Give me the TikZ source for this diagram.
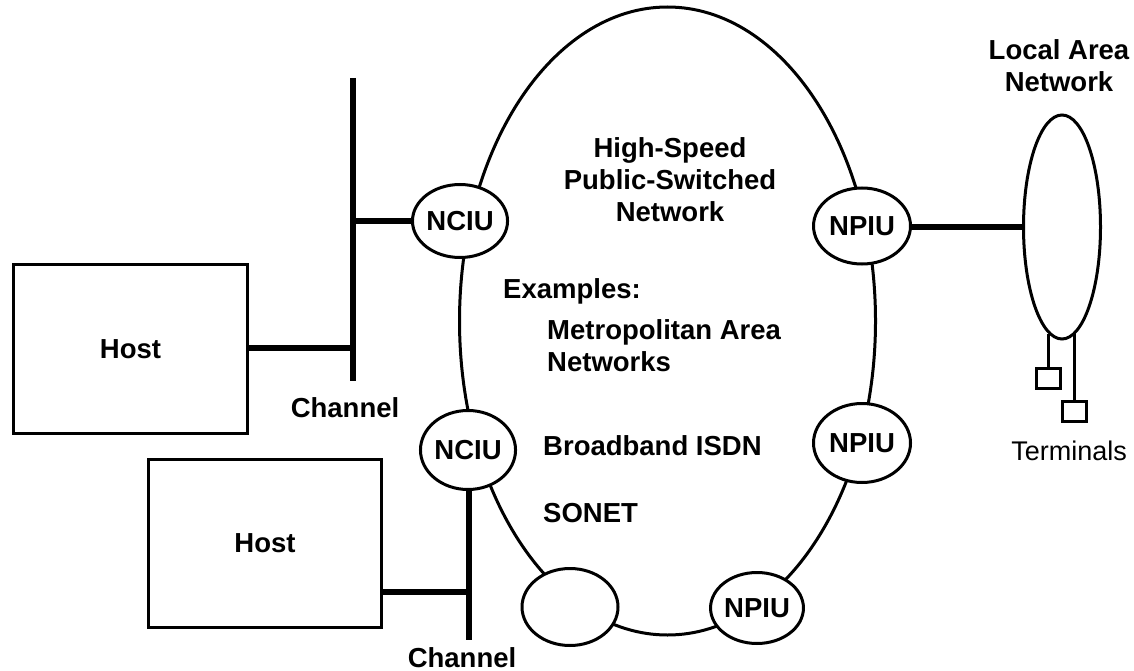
\documentclass[tikz,border=0pt]{standalone}
\usepackage{fontspec}
\setmainfont{Liberation Sans}
\usetikzlibrary{shapes.geometric}
\begin{document}
\begin{tikzpicture}[x=1pt,y=-1pt,
  unit/.style={draw, ellipse, line width=3pt, fill=white, inner sep=0pt,
    font=\fontsize{27.5}{32}\selectfont\bfseries},
  hostbox/.style={draw, rectangle, line width=3.3pt, inner sep=0pt,
    font=\fontsize{27.5}{32}\selectfont\bfseries},
  termbox/.style={draw, rectangle, line width=3pt, inner sep=0pt,
    minimum width=24pt, minimum height=20pt},
  link/.style={line width=5.3pt},
  bus/.style={line width=5.5pt},
  lbl/.style={inner sep=0pt, font=\fontsize{27.5}{32}\selectfont\bfseries},
  plain/.style={inner sep=0pt, font=\fontsize{27}{32}\selectfont}
]
\useasboundingbox (0,0) rectangle (1134,671);

% public-switched network ring
\node[draw, ellipse, line width=3pt, minimum width=416pt, minimum height=628pt,
  inner sep=0pt] (net) at (667.5,321) {};

% interface units sitting on the ring
\node[unit, minimum width=93pt, minimum height=73pt] (c1) at (460,221) {NCIU};
\node[unit, minimum width=97pt, minimum height=76pt] (p1) at (862,226) {NPIU};
\node[unit, minimum width=95pt, minimum height=79pt] (c2) at (468,450) {NCIU};
\node[unit, minimum width=97pt, minimum height=79pt] (p2) at (862,443) {NPIU};
\node[unit, minimum width=96pt, minimum height=77pt] (u0) at (570,607) {};
\node[unit, minimum width=86pt, minimum height=71pt] (p3) at (757,608) {NPIU};

% ring captions
\node[lbl, align=center] (title) at (670,180) {High-Speed\\Public-Switched\\Network};
\node[lbl, anchor=base west] (ex) at (503,298) {Examples:};
\node[lbl, anchor=west, align=left] (man) at (547,346) {Metropolitan Area\\Networks};
\node[lbl, anchor=base west] (isdn) at (543,455) {Broadband ISDN};
\node[lbl, anchor=base west] (sonet) at (543,522) {SONET};

% hosts
\node[hostbox, minimum width=234pt, minimum height=169pt] (h1) at (130.5,349) {Host};
\node[hostbox, minimum width=233pt, minimum height=168pt] (h2) at (265,543.5) {Host};

% first channel
\coordinate (b1t) at (353,78);
\coordinate (b1b) at (353,381);
\draw[bus] (b1t) -- (b1b);
\draw[link] (h1.east |- 0,348) -- (b1t |- 0,348);
\draw[link] (c1.west) -- (c1.west -| b1t);
\node[lbl, anchor=base] (ch1) at (345,417) {Channel};

% second channel
\coordinate (b2b) at (469,640);
\draw[bus] (c2.south -| b2b) -- (b2b);
\draw[link] (h2.east |- 0,592) -- (b2b |- 0,592);
\node[lbl, anchor=base] (ch2) at (462,667) {Channel};

% local area network
\node[draw, ellipse, line width=3pt, minimum width=77pt, minimum height=224pt,
  inner sep=0pt] (lan) at (1062,227) {};
\node[lbl, align=center] (lantitle) at (1059,66) {Local Area\\Network};
\draw[link] (p1.east |- lan.west) -- (lan.west);

% terminals on the LAN
\node[termbox] (t1) at (1048.5,378.5) {};
\node[termbox] (t2) at (1074.5,411.5) {};
\draw[line width=3pt] (t1.north) -- (t1.north |- lan.-97);
\draw[line width=3pt] (t2.north) -- (t2.north |- lan.-82);
\node[plain, anchor=base] (term) at (1069,460) {Terminals};
\end{tikzpicture}
\end{document}
